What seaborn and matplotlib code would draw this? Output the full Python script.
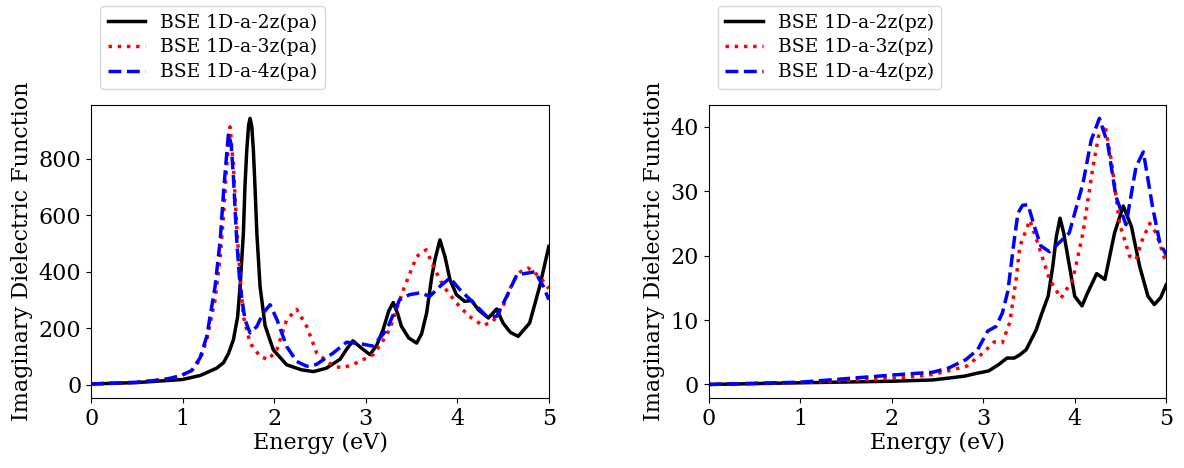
import matplotlib
matplotlib.use("Agg")
import matplotlib.pyplot as plt
import seaborn as sns

# ---- data (Energy in eV, Im(eps)) ----
# left panel: pa polarisation
pa2_x = [0.0, 0.5, 1.0, 1.19, 1.26, 1.37, 1.445, 1.50, 1.554, 1.60, 1.627, 1.663, 1.68, 1.70, 1.72,
         1.736, 1.755, 1.772, 1.79, 1.81, 1.845, 1.90, 1.99, 2.136, 2.30, 2.43, 2.57, 2.72, 2.79,
         2.86, 2.95, 3.046, 3.12, 3.19, 3.25, 3.30, 3.35, 3.39, 3.47, 3.556, 3.61, 3.665, 3.72,
         3.755, 3.81, 3.865, 3.92, 3.99, 4.08, 4.156, 4.23, 4.34, 4.43, 4.50, 4.58, 4.665, 4.79,
         4.90, 5.0]
pa2_y = [2, 7, 18, 32, 42, 58, 77, 110, 159, 240, 348, 537, 702, 832, 920,
         944, 915, 832, 700, 537, 348, 209, 123, 70, 52, 46, 58, 90, 125,
         155, 130, 106, 140, 195, 260, 291, 250, 206, 165, 147, 180, 254, 380,
         442, 513, 454, 372, 319, 295, 298, 265, 236, 268, 218, 185, 171, 218,
         348, 490]

pa3_x = [0.0, 0.5, 0.8, 0.97, 1.10, 1.19, 1.263, 1.354, 1.41, 1.445, 1.48, 1.517, 1.554, 1.59,
         1.627, 1.663, 1.736, 1.845, 1.935, 2.03, 2.136, 2.245, 2.355, 2.464, 2.645, 2.75, 2.90,
         3.08, 3.17, 3.26, 3.41, 3.556, 3.66, 3.755, 3.85, 3.99, 4.13, 4.28, 4.39, 4.50, 4.61,
         4.69, 4.775, 4.90, 5.0]
pa3_y = [2, 8, 18, 30, 50, 88, 159, 301, 454, 596, 773, 914, 773, 560,
         384, 242, 147, 100, 88, 124, 230, 267, 206, 112, 65, 59, 77,
         106, 145, 195, 336, 454, 478, 407, 348, 289, 242, 209, 224, 277, 366,
         400, 413, 383, 340]

pa4_x = [0.0, 0.5, 0.8, 0.97, 1.10, 1.19, 1.263, 1.354, 1.41, 1.45, 1.50, 1.53, 1.554, 1.59,
         1.627, 1.68, 1.736, 1.81, 1.88, 1.955, 2.03, 2.136, 2.245, 2.355, 2.46, 2.645, 2.79,
         2.94, 3.08, 3.23, 3.37, 3.48, 3.59, 3.70, 3.81, 3.92, 4.03, 4.18, 4.32, 4.43, 4.54,
         4.65, 4.76, 4.85, 4.94, 5.0]
pa4_y = [2, 8, 18, 30, 50, 95, 171, 348, 513, 700, 891, 850, 737, 513,
         348, 230, 183, 206, 254, 283, 230, 135, 82, 65, 71, 112, 150,
         145, 136, 195, 301, 319, 325, 313, 348, 378, 336, 289, 242, 242, 313,
         389, 395, 400, 348, 301]

# right panel: pz polarisation
pz2_x = [0.0, 1.0, 2.0, 2.45, 2.63, 2.80, 2.92, 3.06, 3.17, 3.26, 3.34, 3.40, 3.47, 3.58, 3.64,
         3.71, 3.76, 3.80, 3.84, 3.88, 3.93, 4.00, 4.08, 4.14, 4.24, 4.33, 4.435, 4.53, 4.62,
         4.71, 4.80, 4.87, 4.94, 5.0]
pz2_y = [0.0, 0.26, 0.5, 0.7, 1.0, 1.3, 1.7, 2.1, 3.1, 4.1, 4.1, 4.6, 5.4, 8.5, 11.0,
         13.7, 18.3, 23.0, 25.8, 23.5, 19.4, 13.7, 12.2, 14.2, 17.2, 16.3, 23.5, 27.7, 24.5,
         18.3, 13.7, 12.4, 13.5, 15.5]

pz3_x = [0.0, 1.0, 2.09, 2.45, 2.815, 3.0, 3.12, 3.21, 3.29, 3.36, 3.40, 3.43, 3.51, 3.62, 3.725,
         3.85, 3.98, 4.09, 4.20, 4.26, 4.33, 4.40, 4.49, 4.60, 4.67, 4.74, 4.82, 4.89, 5.0]
pz3_y = [0.0, 0.3, 1.0, 1.55, 2.8, 4.9, 6.6, 6.5, 9.6, 16.3, 21.4, 22.5, 25.5, 20.9, 16.3,
         13.4, 16.3, 23.5, 33.8, 38.5, 40.3, 34.8, 25.0, 19.9, 19.4, 22.5, 25.0, 23.5, 18.8]

pz4_x = [0.0, 1.0, 2.09, 2.45, 2.63, 2.815, 2.94, 3.05, 3.14, 3.21, 3.27, 3.34, 3.38, 3.43, 3.49,
         3.56, 3.63, 3.725, 3.83, 3.94, 4.09, 4.18, 4.27, 4.36, 4.45, 4.56, 4.67, 4.75, 4.85,
         4.93, 5.0]
pz4_y = [0.0, 0.35, 1.55, 1.9, 2.6, 3.9, 5.4, 8.3, 9.0, 11.1, 14.5, 22.5, 26.6, 27.8, 27.9,
         24.5, 21.5, 20.6, 22.0, 23.5, 31.2, 37.9, 41.3, 37.4, 29.2, 24.8, 33.8, 36.1, 27.6,
         22.0, 20.1]

labels_pa = ["BSE 1D-a-2z(pa)", "BSE 1D-a-3z(pa)", "BSE 1D-a-4z(pa)"]
labels_pz = ["BSE 1D-a-2z(pz)", "BSE 1D-a-3z(pz)", "BSE 1D-a-4z(pz)"]

plt.rcParams['font.family'] = 'DejaVu Serif'

fig, axs = plt.subplots(1, 2, figsize=(11.84, 4.68), dpi=100)

styles = [("black", "-"), ("red", ":"), ("blue", "--")]

panels = [
    (axs[0], [(pa2_x, pa2_y), (pa3_x, pa3_y), (pa4_x, pa4_y)], labels_pa, (-47, 992)),
    (axs[1], [(pz2_x, pz2_y), (pz3_x, pz3_y), (pz4_x, pz4_y)], labels_pz, (-2.07, 43.4)),
]

for ax, series, labels, ylim in panels:
    for (x, y), lab, (c, ls) in zip(series, labels, styles):
        sns.lineplot(x=x, y=y, ax=ax, color=c, linestyle=ls, linewidth=2.5, label=lab)
    ax.set_xlim(0, 5)
    ax.set_ylim(*ylim)
    ax.set_xlabel("Energy (eV)", fontsize=16, labelpad=2)
    ax.set_ylabel("Imaginary Dielectric Function", fontsize=16)
    ax.tick_params(labelsize=16)
    ax.legend(loc="lower left", bbox_to_anchor=(0.02, 1.055), borderaxespad=0,
              fontsize=13.5, labelspacing=0.35, frameon=True)

axs[1].set_yticks([0, 10, 20, 30, 40])

plt.subplots_adjust(left=0.077, right=0.985, bottom=0.15, top=0.776, wspace=0.349)
plt.savefig("out.png")
